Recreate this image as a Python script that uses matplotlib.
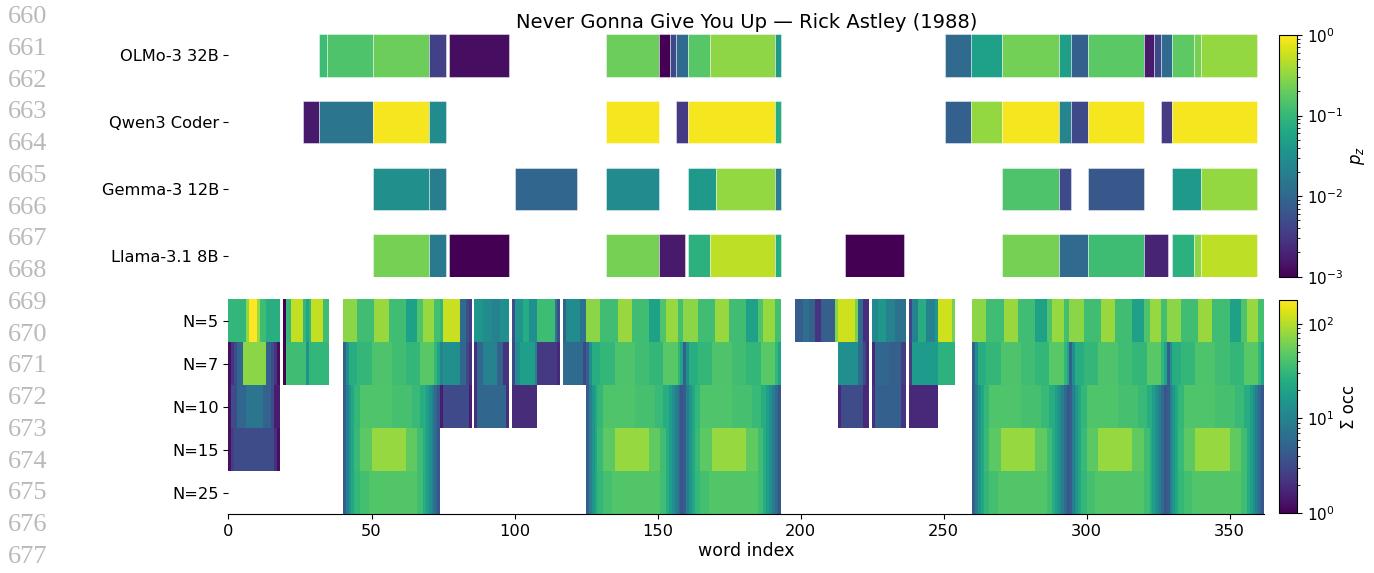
import matplotlib
matplotlib.use("Agg")
import matplotlib.pyplot as plt
import numpy as np
from matplotlib.cm import ScalarMappable
from matplotlib.colors import LogNorm

N_WORDS = 362
TITLE = "Never Gonna Give You Up \u2014 Rick Astley (1988)"

# top panel: (start word, end word, p_z) per model
MODELS = ["OLMo-3 32B", "Qwen3 Coder", "Gemma-3 12B", "Llama-3.1 8B"]
OLMO = [
    (31.5, 34.5, 0.117), (34.5, 50.5, 0.145), (50.5, 70, 0.21), (70, 76, 0.0037),
    (77, 98, 0.00125), (132, 150.5, 0.21), (150.5, 154.5, 0.001), (154.5, 156.5, 0.0046),
    (156.5, 160.5, 0.0105), (160.5, 168.5, 0.16), (168.5, 191, 0.31), (191, 193, 0.042),
    (250.5, 259.5, 0.0105), (259.5, 270.5, 0.05), (270.5, 290.5, 0.23), (290.5, 294.5, 0.048),
    (294.5, 300.5, 0.008), (300.5, 320, 0.17), (320, 323.5, 0.0016), (323.5, 326, 0.0046),
    (326, 330, 0.0105), (330, 337.5, 0.18), (337.5, 340, 0.234), (340, 359.5, 0.33),
]
QWEN = [
    (26, 31.5, 0.0016), (31.5, 50.5, 0.0148), (50.5, 70, 0.9), (70, 76, 0.0275),
    (132, 150.5, 0.9), (156.5, 160.5, 0.0033), (160.5, 191, 0.9), (191, 193, 0.072),
    (250.5, 259.5, 0.008), (259.5, 270.5, 0.33), (270.5, 290.5, 0.9), (290.5, 294.5, 0.0224),
    (294.5, 300.5, 0.0046), (300.5, 320, 0.9), (326, 330, 0.0033), (330, 359.5, 0.9),
]
GEMMA = [
    (50.5, 70, 0.0316), (70, 76, 0.0182), (100, 122, 0.0098), (132, 150.5, 0.0275),
    (160.5, 170.5, 0.042), (170.5, 191, 0.33), (191, 193, 0.0182), (270.5, 290.5, 0.145),
    (290.5, 294.5, 0.0046), (300.5, 320, 0.0065), (330, 340, 0.042), (340, 359.5, 0.33),
]
LLAMA = [
    (50.5, 70, 0.234), (70, 76, 0.017), (77, 98, 0.001), (132, 150.5, 0.234),
    (150.5, 159.5, 0.0016), (160.5, 168.5, 0.083), (168.5, 191, 0.5), (191, 193, 0.072),
    (215.5, 236, 0.001), (270.5, 290.5, 0.234), (290.5, 300.5, 0.0105), (300.5, 320, 0.117),
    (320, 328.5, 0.002), (330, 337.5, 0.083), (337.5, 340, 0.31), (340, 359.5, 0.5),
]
SEGMENTS = [OLMO, QWEN, GEMMA, LLAMA]

# bottom panel: summed occurrences per word for each n-gram window
WINDOWS = [5, 7, 10, 15, 25]
CHORUS_STARTS = [40, 125, 159, 260, 294, 328]
# (offset from chorus start, offset end, sum occ)
CHORUS = {
    5: [(0, 5, 72), (5, 11, 36), (11, 16, 80), (16, 22, 36), (22, 26, 19), (26, 28, 42),
        (28, 32, 78), (32, 34, 38)],
    7: [(0, 1, 4.7), (1, 2, 13), (2, 5, 25), (5, 10, 31), (10, 17, 42), (17, 22, 36),
        (22, 27, 31), (27, 32, 46), (32, 33, 30), (33, 34, 20)],
    10: [(0, 1, 4.5), (1, 2, 9), (2, 3, 15), (3, 4, 22), (4, 6, 31), (6, 17, 43), (17, 24, 39),
         (24, 27, 33), (27, 29, 25), (29, 30, 18), (30, 31, 13), (31, 32, 9), (32, 33, 6), (33, 34, 4)],
    15: [(0, 1, 4.5), (1, 2, 9), (2, 3, 15), (3, 4, 22), (4, 6, 33), (6, 10, 48), (10, 22, 78),
         (22, 26, 50), (26, 28, 36), (28, 29, 25), (29, 30, 18), (30, 31, 13), (31, 32, 9),
         (32, 33, 6), (33, 34, 4)],
    25: [(0, 1, 4.5), (1, 2, 9), (2, 3, 15), (3, 4, 22), (4, 6, 31), (6, 9, 38), (9, 26, 44),
         (26, 28, 36), (28, 29, 25), (29, 30, 18), (30, 31, 13), (31, 32, 9), (32, 33, 6), (33, 34, 4)],
}
# (start word, end word, sum occ) outside the chorus blocks
EXTRA = {
    5: [(0, 6, 30), (6, 7, 76), (7, 10, 172), (10, 11, 80), (11, 13, 35), (13, 18, 26),
        (19, 20, 1.0), (20, 22, 32), (22, 26, 110), (26, 27, 30), (27, 28, 20), (28, 29, 30),
        (29, 33, 110), (33, 35, 35),
        (74, 75, 30), (75, 81, 115), (81, 83, 6), (83, 84, 3.5), (84, 85, 2.5),
        (86, 89, 15), (89, 92, 12), (92, 95, 10), (95, 98, 13),
        (99, 100, 3.5), (100, 103, 15), (103, 105, 24), (105, 108, 13), (108, 114, 35),
        (114, 115, 8), (115, 116, 3.5),
        (117, 118, 5), (118, 123, 12), (123, 125, 7),
        (198, 201, 4.5), (201, 203, 6.5), (203, 205, 5), (205, 207, 2.2), (207, 212, 4.7),
        (212, 213, 70), (213, 219, 120), (219, 220, 60), (220, 222, 6), (222, 224, 2),
        (225, 227, 11), (227, 230, 16), (230, 233, 10), (233, 237, 7),
        (238, 239, 3), (239, 241, 10), (241, 244, 25), (244, 247, 10), (247, 248, 16),
        (248, 253, 120), (253, 254, 60)],
    7: [(0, 1, 1.2), (1, 2, 2.2), (2, 3, 3.3), (3, 5, 5.5), (5, 13, 72), (13, 15, 5),
        (15, 16, 3.3), (16, 17, 2.2), (17, 18, 1.2),
        (19, 20, 1.0), (20, 27, 36), (27, 28, 14), (28, 35, 30),
        (74, 75, 10), (75, 81, 13), (81, 83, 5.5), (83, 84, 3), (84, 85, 2),
        (86, 87, 2), (87, 89, 5.5), (89, 94, 10), (94, 96, 5), (96, 98, 2.2),
        (99, 100, 3), (100, 102, 12), (102, 107, 18), (107, 108, 9), (108, 115, 2.4),
        (115, 116, 1.8),
        (117, 124, 6), (124, 125, 3),
        (213, 220, 13), (220, 222, 6), (222, 223, 3), (223, 224, 1.8),
        (225, 226, 1.8), (226, 231, 5.5), (231, 235, 4.7), (235, 237, 2.5),
        (238, 239, 2.5), (239, 248, 17), (248, 254, 28)],
    10: [(0, 1, 1.2), (1, 3, 3.3), (3, 6, 5.5), (6, 12, 7.5), (12, 15, 5), (15, 16, 3.2),
         (16, 18, 1.5),
         (74, 75, 1.5), (75, 84, 3.2), (84, 85, 1.5),
         (86, 87, 2), (87, 97, 5.5), (97, 98, 2),
         (99, 108, 1.9),
         (213, 214, 1.8), (214, 222, 3.3), (222, 224, 1.8),
         (225, 226, 2), (226, 235, 4.8), (235, 237, 2.2),
         (238, 248, 1.8)],
    15: [(0, 1, 1.2), (1, 2, 2.5), (2, 16, 3.3), (16, 17, 2), (17, 18, 1.2)],
    25: [],
}

LINE_NUMBERS = list(range(660, 678))

occ = np.full((len(WINDOWS), N_WORDS), np.nan)
for r, n in enumerate(WINDOWS):
    for s in CHORUS_STARTS:
        for a, b, v in CHORUS[n]:
            occ[r, s + a:s + b] = v
    for a, b, v in EXTRA[n]:
        occ[r, a:b] = v

cmap = plt.get_cmap("viridis")
p_norm = LogNorm(1e-3, 1)
occ_norm = LogNorm(1, 178)

fig = plt.figure(figsize=(13.74, 5.73), dpi=100)
ax_top = fig.add_axes([0.1663, 0.5166, 0.7536, 0.4241])
ax_bot = fig.add_axes([0.1663, 0.1024, 0.7536, 0.3752], sharex=ax_top)

for i, segs in enumerate(SEGMENTS):
    starts = [a for a, b, p in segs]
    widths = [b - a for a, b, p in segs]
    colors = [cmap(p_norm(p)) for a, b, p in segs]
    ax_top.barh(i, widths, left=starts, height=0.64, color=colors,
                edgecolor=(1, 1, 1, 0.5), linewidth=0.6)
ax_top.set_yticks(range(len(MODELS)), MODELS)
ax_top.set_ylim(len(MODELS) - 1 + 0.32, -0.32)
ax_top.tick_params(axis="x", bottom=False, labelbottom=False)
for sp in ax_top.spines.values():
    sp.set_visible(False)
ax_top.set_title(TITLE, fontsize=14, pad=4)

mesh = ax_bot.pcolormesh(np.arange(N_WORDS + 1), np.arange(len(WINDOWS) + 1),
                         np.ma.masked_invalid(occ), cmap=cmap, norm=occ_norm)
ax_bot.set_yticks(np.arange(len(WINDOWS)) + 0.5, [f"N={n}" for n in WINDOWS])
ax_bot.set_ylim(len(WINDOWS), 0)
ax_bot.set_xlim(0, N_WORDS)
ax_bot.set_xticks(range(0, 351, 50))
ax_bot.set_xlabel("word index", fontsize=12.5, labelpad=2)
for sp in ["top", "right", "left"]:
    ax_bot.spines[sp].set_visible(False)

for ax in (ax_top, ax_bot):
    ax.tick_params(labelsize=11.7)

cax1 = fig.add_axes([0.9312, 0.5171, 0.0127, 0.4218])
cb1 = fig.colorbar(ScalarMappable(p_norm, cmap), cax=cax1)
cb1.set_label("$p_z$", fontsize=12)
cax2 = fig.add_axes([0.9312, 0.1042, 0.0127, 0.3723])
cb2 = fig.colorbar(mesh, cax=cax2)
cb2.set_label("\u03a3 occ", fontsize=12)
for cb in (cb1, cb2):
    cb.ax.tick_params(labelsize=11)

for i, num in enumerate(LINE_NUMBERS):
    fig.text(8 / 1374, 1 - (17 + 31.76 * i) / 573, str(num), ha="left", va="center",
             fontsize=19, color="#bababa", family="Liberation Serif")

fig.savefig("out.png", dpi=100)
